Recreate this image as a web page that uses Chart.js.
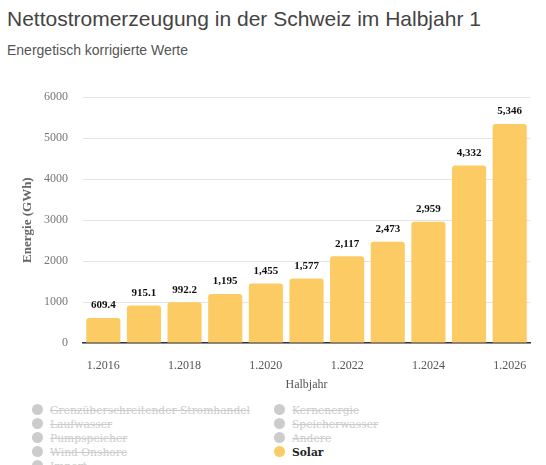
<!DOCTYPE html>
<html>
<head>
<meta charset="utf-8">
<script src="https://cdn.jsdelivr.net/npm/chart.js@4"></script>
<style>
  body { margin: 0; background: #fff; width: 546px; height: 465px; overflow: hidden; position: relative; }
  h1 { position: absolute; left: 7px; top: 7px; margin: 0; font: 21px "Liberation Sans", Arial, sans-serif; color: #444; }
  h2 { position: absolute; left: 7px; top: 42px; margin: 0; font: 14px "Liberation Sans", Arial, sans-serif; color: #555; font-weight: normal; }
  #wrap { position: absolute; left: 0; top: 75px; width: 546px; height: 317px; }
  #legend { position: absolute; left: 32px; top: 404px; width: 520px; font: 10.7px "DejaVu Serif", serif; }
  .item { position: absolute; white-space: nowrap; height: 14px; line-height: 14px; }
  .dot { display: inline-block; width: 11px; height: 11px; border-radius: 50%; vertical-align: -1px; margin-right: 7px; }
  .off { color: #ccc; text-decoration: line-through; }
  .on { color: #222; font-weight: bold; }
</style>
</head>
<body>
<h1>Nettostromerzeugung in der Schweiz im Halbjahr 1</h1>
<h2>Energetisch korrigierte Werte</h2>
<div id="wrap"><canvas id="chart"></canvas></div>
<div id="legend"></div>
<script>
const labels = ['1.2016', '1.2017', '1.2018', '1.2019', '1.2020', '1.2021', '1.2022', '1.2023', '1.2024', '1.2025', '1.2026'];
const solar = [609.4, 915.1, 992.2, 1195, 1455, 1577, 2117, 2473, 2959, 4332, 5346];
const legendLeft = ['Grenzüberschreitender Stromhandel', 'Laufwasser', 'Pumpspeicher', 'Wind Onshore', 'Import'];
const legendRight = ['Kernenergie', 'Speicherwasser', 'Andere', 'Solar'];
const activeSeries = 'Solar';

const solarColor = '#fdcb64';

// values above bars, like datalabels
const valueLabels = {
  id: 'valueLabels',
  afterDatasetsDraw(chart) {
    const ctx = chart.ctx;
    const meta = chart.getDatasetMeta(0);
    ctx.save();
    ctx.font = 'bold 11px "Liberation Serif", serif';
    ctx.fillStyle = '#111';
    ctx.textAlign = 'center';
    ctx.textBaseline = 'bottom';
    meta.data.forEach((bar, i) => {
      const v = solar[i];
      const txt = v < 1000 ? v.toFixed(1) : Math.round(v).toLocaleString('en-US');
      ctx.fillText(txt, bar.x, bar.y - 7);
    });
    ctx.restore();
  }
};

const ctx = document.getElementById('chart').getContext('2d');
new Chart(ctx, {
  type: 'bar',
  data: {
    labels: labels,
    datasets: [{
      label: 'Solar',
      data: solar,
      backgroundColor: solarColor,
      borderRadius: 3,
      borderSkipped: 'bottom',
      barPercentage: 0.84,
      categoryPercentage: 1
    }]
  },
  options: {
    responsive: true,
    maintainAspectRatio: false,
    animation: false,
    layout: { padding: { top: 1, left: 0, right: 16, bottom: 0 } },
    plugins: {
      legend: { display: false },
      tooltip: { enabled: false }
    },
    scales: {
      y: {
        min: 0,
        max: 6000,
        afterFit: s => { s.width = 83; },
        ticks: { stepSize: 1000, color: '#777', padding: 15, font: { family: 'Liberation Serif', size: 12 },
          callback: v => String(v) },
        grid: { color: '#e4e4e4', drawTicks: false },
        border: { display: false },
        title: {
          display: true,
          text: 'Energie (GWh)',
          color: '#666',
          font: { family: 'Liberation Serif', size: 13, weight: 'bold' },
          padding: { top: 20, bottom: 0 }
        }
      },
      x: {
        afterFit: s => { s.height = 49; },
        ticks: { color: '#555', padding: 16, maxRotation: 0, autoSkip: false,
          font: { family: 'Liberation Serif', size: 12 },
          callback: function (val, i) { return i % 2 === 0 ? labels[i] : ''; } },
        grid: { display: false, drawTicks: false },
        border: { display: true, color: '#333', width: 1.5 },
        title: {
          display: true,
          text: 'Halbjahr',
          color: '#555',
          font: { family: 'Liberation Serif', size: 12 },
          padding: { top: 0, bottom: 0 }
        }
      }
    }
  },
  plugins: [valueLabels]
});

// html legend in two columns
const legend = document.getElementById('legend');
function addItems(names, x) {
  names.forEach((name, i) => {
    const on = name === activeSeries;
    const el = document.createElement('div');
    el.className = 'item';
    el.style.left = x + 'px';
    el.style.top = (i * 14) + 'px';
    el.innerHTML = '<span class="dot" style="background:' + (on ? solarColor : '#ccc') + '"></span>' +
      '<span class="' + (on ? 'on' : 'off') + '">' + name + '</span>';
    legend.appendChild(el);
  });
}
addItems(legendLeft, 0);
addItems(legendRight, 242);
</script>
</body>
</html>
